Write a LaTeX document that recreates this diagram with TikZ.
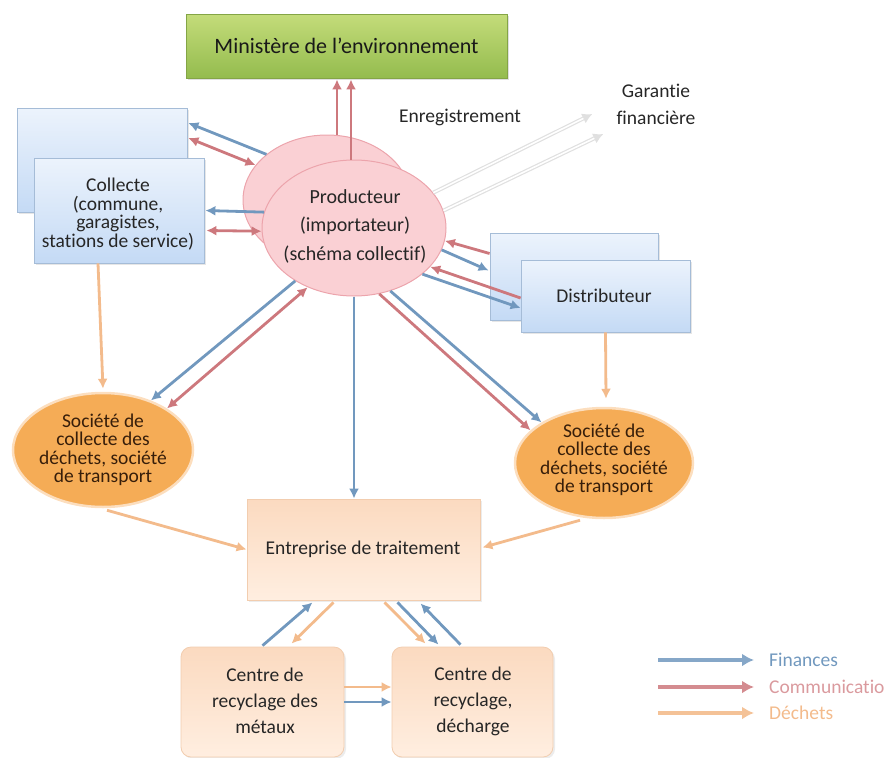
\documentclass[tikz,border=0pt]{standalone}
\usepackage{fontspec}
\setmainfont{Carlito}[Ligatures={NoCommon}]
\usetikzlibrary{arrows.meta,shapes.geometric,calc,shadows}
\definecolor{finc}{RGB}{113,152,190}
\definecolor{comc}{RGB}{205,120,125}
\definecolor{decc}{RGB}{243,187,140}
\definecolor{bluetop}{RGB}{236,243,252}
\definecolor{bluebot}{RGB}{196,218,245}
\definecolor{blueline}{RGB}{165,188,215}
\definecolor{greentop}{RGB}{196,220,122}
\definecolor{greenbot}{RGB}{148,188,78}
\definecolor{greenline}{RGB}{132,165,70}
\definecolor{pinkfill}{RGB}{250,208,212}
\definecolor{pinkline}{RGB}{236,164,172}
\definecolor{orfill}{RGB}{245,172,86}
\definecolor{orline}{RGB}{252,222,190}
\definecolor{peachtop}{RGB}{251,218,192}
\definecolor{peachbot}{RGB}{255,238,224}
\definecolor{peachline}{RGB}{242,205,175}
\definecolor{brown}{RGB}{55,30,10}
\tikzset{
  txt/.style={inner sep=0pt, align=center, font=\fontsize{19.5}{18.5}\selectfont, text=black!85},
  minbox/.style={draw=greenline, line width=0.8pt, top color=greentop, bottom color=greenbot, inner sep=0pt,
     drop shadow={opacity=0.25, shadow xshift=2pt, shadow yshift=-2pt}},
  bluebox/.style={draw=blueline, line width=0.8pt, top color=bluetop, bottom color=bluebot, inner sep=0pt,
     drop shadow={opacity=0.2, shadow xshift=2pt, shadow yshift=-2pt}},
  prodell/.style={ellipse, draw=pinkline, line width=1pt, fill=pinkfill, inner sep=0pt},
  socell/.style={ellipse, draw=orline, line width=2.5pt, fill=orfill, inner sep=0pt},
  peachbox/.style={draw=peachline, line width=0.8pt, top color=peachtop, bottom color=peachbot, inner sep=0pt,
     drop shadow={opacity=0.15, shadow xshift=2pt, shadow yshift=-2pt}},
  fin/.style={draw=finc, line width=2.8pt, -{Latex[length=10pt,width=10pt]}},
  com/.style={draw=comc, line width=2.8pt, -{Latex[length=10pt,width=10pt]}},
  comboth/.style={draw=comc, line width=2.8pt, {Latex[length=10pt,width=10pt]}-{Latex[length=10pt,width=10pt]}},
  dech/.style={draw=decc, line width=2.8pt, -{Latex[length=10pt,width=10pt]}},
  garr/.style={draw=black!12, line width=4pt, -{Latex[length=10pt,width=11pt]}},
  garin/.style={draw=white, line width=1.6pt},
  legarr/.style={line width=4pt, -{Latex[length=12pt,width=13pt]}},
}
\begin{document}
\begin{tikzpicture}[x=1pt,y=-1pt]
\useasboundingbox (0,0) rectangle (884,758);
\clip (0,0) rectangle (884,758);

% Ministere
\node[minbox, minimum width=321pt, minimum height=64pt] (min) at (346.5,46) {};
\node[txt, font=\fontsize{22}{24}\selectfont, text=black!90] (mint) at (346.5,46) {Ministère de l’environnement};

% Collecte
\node[bluebox, minimum width=170pt, minimum height=104pt] (collB) at (102,160) {};
\node[bluebox, minimum width=170pt, minimum height=105pt] (collF) at (119,210.5) {};
\node[txt] (collT) at (118,214) {Collecte\\(commune,\\garagistes,\\stations de service)};

% Distributeur
\node[bluebox, minimum width=168pt, minimum height=87pt] (distB) at (574,276.5) {};
\node[bluebox, minimum width=169pt, minimum height=72pt] (distF) at (605.5,296) {};
\node[txt] (distT) at (604,296) {Distributeur};

% Producteur
\node[prodell, minimum width=168pt, minimum height=130pt] (prodB) at (327,200) {};
\node[prodell, minimum width=184pt, minimum height=136pt] (prodF) at (354,228) {};
\node[txt, font=\fontsize{20}{28.5}\selectfont] (prodT) at (355,226) {Producteur\\(importateur)\\(schéma collectif)};

% Societes
\node[socell, minimum width=180pt, minimum height=114pt] (socL) at (103,450) {};
\node[txt, text=brown] (socLt) at (103,450) {Société de\\collecte des\\déchets, société\\de transport};
\node[socell, minimum width=178pt, minimum height=110pt] (socR) at (604,463) {};
\node[txt, text=brown] (socRt) at (604,460) {Société de\\collecte des\\déchets, société\\de transport};

% Entreprise
\node[peachbox, minimum width=233pt, minimum height=101pt] (ent) at (363.5,549.5) {};
\node[txt] (entT) at (363,549) {Entreprise de traitement};

% Centres
\node[peachbox, rounded corners=10pt, minimum width=163pt, minimum height=110pt] (met) at (262.5,702) {};
\node[txt, font=\fontsize{19.5}{26}\selectfont] (metT) at (265,701) {Centre de\\recyclage des\\métaux};
\node[peachbox, rounded corners=10pt, minimum width=161pt, minimum height=110pt] (dec) at (472.5,702) {};
\node[txt, font=\fontsize{19.5}{26}\selectfont] (decT) at (473,701) {Centre de\\recyclage,\\décharge};

% free labels
\node[txt] (enr) at (460,117) {Enregistrement};
\node[txt, font=\fontsize{19.5}{27}\selectfont] (gar) at (656,104) {Garantie\\financière};

% Garantie arrows
\draw[garr] (prodF.24) -- ($(gar.west)+(-24,10)$) coordinate (g1);
\draw[garin, shorten >=10pt] (prodF.24) -- (g1);
\draw[garr] (prodF.11) -- ($(gar.west)+(-13,30)$) coordinate (g2);
\draw[garin, shorten >=10pt] (prodF.11) -- (g2);

% to Ministere
\coordinate (m1) at ($(min.south)+(-9.5,1)$);
\coordinate (m2) at ($(min.south)+(4.5,1)$);
\draw[com] (m1 |- prodB.north) -- (m1);
\draw[com] (m2 |- prodF.north) -- (m2);

% Collecte
\draw[fin] (prodB.143) -- ($(collB.east)+(1,-37)$);
\draw[comboth] ($(collB.east)+(1,-22)$) -- (prodB.154);
\draw[fin] (prodF.170) -- ($(collF.east)+(1,0)$);
\draw[comboth] ($(collF.east)+(2,20)$) -- (prodF.182);

% Distributeur
\draw[com] ($(distB.west)+(0,-23)$) -- (prodF.352);
\draw[fin] (prodF.346) -- ($(distB.west)+(-1,-6)$);
\draw[com] ($(distF.west)+(0,2)$) -- (prodF.333);
\draw[fin] (prodF.326) -- ($(distF.west)+(0,12)$);

% Societes
\draw[fin] (prodF.222) -- (socL.46);
\draw[comboth] (prodF.232) -- (socL.33);
\draw[com] (prodF.291) -- (socR.156);
\draw[fin] (prodF.300) -- (socR.147);
\draw[fin] (prodF.south) -- (prodF.south |- ent.north);

\draw[dech] ($(collF.south)+(-21,0)$) -- ($(socL.north)+(0,-3)$);
\draw[dech] (distF.south) -- ($(socR.north)+(2,-8)$);
\draw[dech] ($(socL.south)+(4,2)$) -- (ent.west);
\draw[dech] ($(socR.south)+(-24,1)$) -- ($(ent.east)+(2,-2)$);

% Centres
\draw[fin] ($(met.north)+(0,-1)$) -- ($(ent.south)+(-51,2)$);
\draw[dech] ($(ent.south)+(-30,2)$) -- ($(met.north)+(29,-3)$);
\draw[dech] ($(ent.south)+(21,2)$) -- ($(dec.north)+(-47,-3)$);
\draw[fin] ($(ent.south)+(34,2)$) -- ($(dec.north)+(-34,-2)$);
\draw[fin] ($(dec.north)+(-12,-2)$) -- ($(ent.south)+(57,3)$);
\draw[dech] ($(met.east)+(0,-15)$) -- ($(dec.west)+(0,-15)$);
\draw[fin] (met.east) -- (dec.west);

% Legend
\coordinate (lf1) at (658,660); \coordinate (lf2) at (754,660);
\coordinate (lc1) at (658,687); \coordinate (lc2) at (754,687);
\coordinate (ld1) at (658,713); \coordinate (ld2) at (754,713);
\draw[legarr, draw=finc!85] (lf1) -- (lf2);
\draw[legarr, draw=comc!85] (lc1) -- (lc2);
\draw[legarr, draw=decc!90] (ld1) -- (ld2);
\node[anchor=west, inner sep=0pt, font=\fontsize{19.5}{20}\selectfont, text=finc] (lft) at (769,660) {Finances};
\node[anchor=west, inner sep=0pt, font=\fontsize{19.5}{20}\selectfont, text=comc!75] (lct) at (769,687) {Communication};
\node[anchor=west, inner sep=0pt, font=\fontsize{19.5}{20}\selectfont, text=decc] (ldt) at (769,713) {Déchets};
\end{tikzpicture}
\end{document}
